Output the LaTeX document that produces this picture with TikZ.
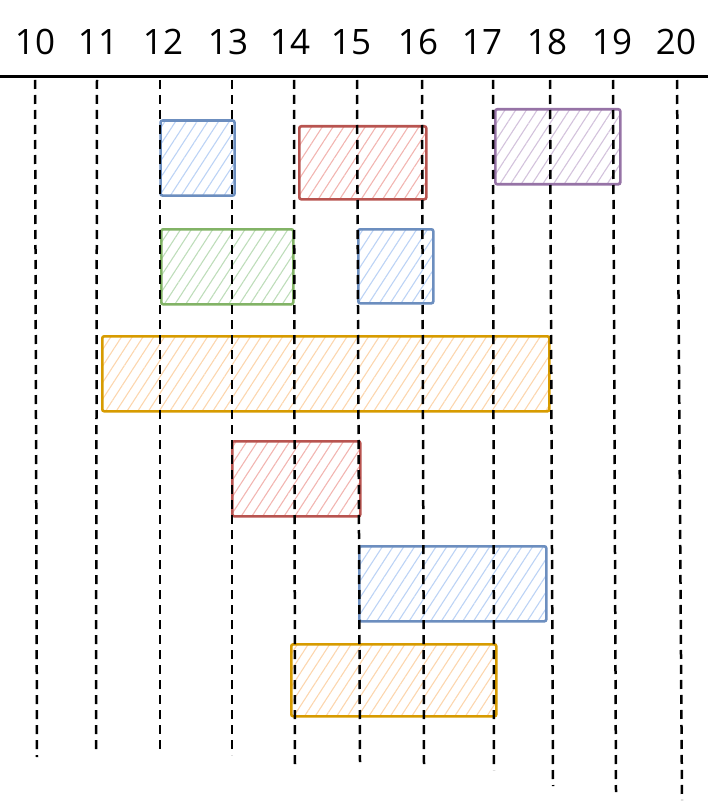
\documentclass[tikz,border=0pt]{standalone}
\usepackage{fontspec}
\setmainfont{Open Sans}
\usetikzlibrary{patterns.meta}

\definecolor{blueLine}{HTML}{6C8EBF}
\definecolor{blueFill}{HTML}{BCD3F5}
\definecolor{redLine}{HTML}{B85450}
\definecolor{redFill}{HTML}{F2B5B1}
\definecolor{purpleLine}{HTML}{9673A6}
\definecolor{purpleFill}{HTML}{D3C2DC}
\definecolor{greenLine}{HTML}{82B366}
\definecolor{greenFill}{HTML}{BEDDBA}
\definecolor{orangeLine}{HTML}{D79B00}
\definecolor{orangeFill}{HTML}{FCD6AE}

\tikzset{
  slot/.style n args={4}{
    draw=#1, line width=2.6pt, anchor=north west, inner sep=0pt,
    minimum width=#3, minimum height=#4,
    pattern={Lines[angle=57,distance=9pt,line width=1.1pt]},
    pattern color=#2,
    rounded corners=2pt
  },
  hour/.style={font=\fontsize{35}{40}\selectfont, inner sep=0pt},
  gridline/.style={line width=2.5pt, dash pattern=on 9pt off 6pt},
  axis/.style={line width=3pt}
}

\begin{document}
\begin{tikzpicture}[x=1pt,y=-1pt]
\useasboundingbox (0,0) rectangle (708,805);

% Time slots
\node[slot={blueLine}{blueFill}{74pt}{75pt}]       (s1) at (160,120) {};
\node[slot={redLine}{redFill}{127pt}{73pt}]        (s2) at (298,125) {};
\node[slot={purpleLine}{purpleFill}{125pt}{75pt}]  (s3) at (494,108) {};
\node[slot={greenLine}{greenFill}{132pt}{75pt}]    (s4) at (160,228) {};
\node[slot={blueLine}{blueFill}{75pt}{74pt}]       (s5) at (357,228) {};
\node[slot={orangeLine}{orangeFill}{447pt}{75pt}]  (s6) at (101,335) {};
\node[slot={redLine}{redFill}{128pt}{75pt}]        (s7) at (231,440) {};
\node[slot={blueLine}{blueFill}{187pt}{75pt}]      (s8) at (358,545) {};
\node[slot={orangeLine}{orangeFill}{205pt}{72pt}]  (s9) at (290,643) {};

% Hours and grid lines
\foreach \h/\xl/\xt/\xb/\yb in {10/35/35/37/757, 11/98/97/96/754, 12/163/160/160/751,
    13/228/232/232/755, 14/290/294/295/767, 15/351/357/360/762, 16/418/422/424/765,
    17/482/493/494/770, 18/547/550/553/786, 19/612/613/616/792, 20/676/677/682/800} {
  \node[hour] (h\h) at (\xl,42) {\h};
  \coordinate (top\h) at (\xt,80);
  \coordinate (bot\h) at (\xb,\yb);
  \draw[gridline] (top\h) -- (bot\h);
}

% Time axis
\coordinate (axisL) at (0,77);
\coordinate (axisR) at (708,77);
\draw[axis] (axisL) -- (axisR);

\end{tikzpicture}
\end{document}
